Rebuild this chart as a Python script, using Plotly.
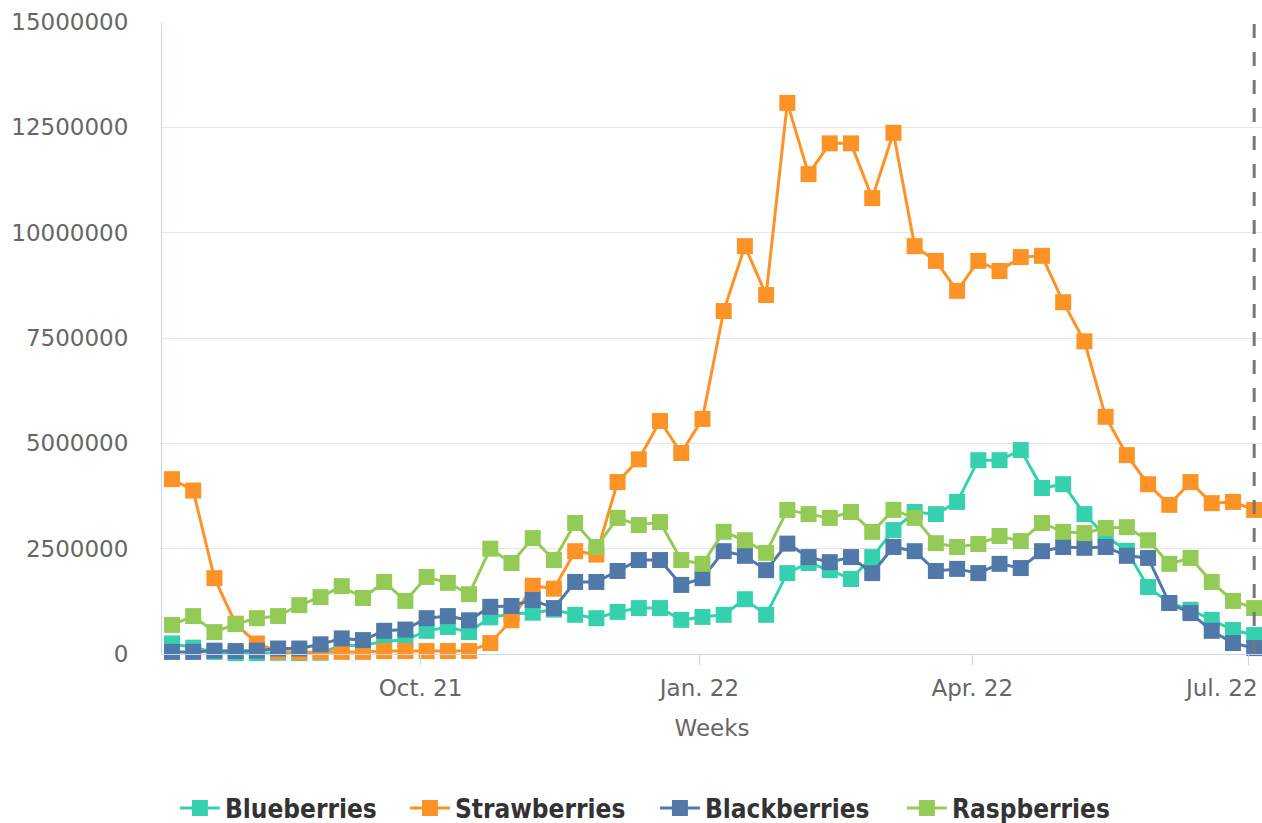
import plotly.graph_objects as go
import pandas as pd

# ---- data ----
weeks = list(pd.date_range("2021-07-11", periods=52, freq="7D").strftime("%Y-%m-%d"))

blueberries = [250000, 150000, 50000, 20000, 20000, 30000, 20000, 30000, 200000, 200000,
               300000, 330000, 550000, 640000, 520000, 870000, 950000, 980000, 1050000, 930000,
               850000, 1000000, 1090000, 1090000, 810000, 880000, 930000, 1300000, 930000, 1920000,
               2160000, 1990000, 1780000, 2300000, 2940000, 3370000, 3320000, 3610000, 4600000, 4600000,
               4840000, 3940000, 4030000, 3320000, 2800000, 2450000, 1590000, 1210000, 1050000, 810000,
               570000, 450000]

strawberries = [4150000, 3880000, 1800000, 720000, 250000, 60000, 40000, 50000, 50000, 50000,
                70000, 70000, 70000, 70000, 70000, 260000, 800000, 1620000, 1550000, 2440000,
                2360000, 4080000, 4620000, 5530000, 4770000, 5580000, 8140000, 9680000, 8520000, 13080000,
                11390000, 12120000, 12120000, 10820000, 12370000, 9680000, 9330000, 8620000, 9330000, 9090000,
                9420000, 9450000, 8350000, 7420000, 5630000, 4720000, 4030000, 3540000, 4080000, 3580000,
                3610000, 3420000]

blackberries = [50000, 50000, 80000, 70000, 80000, 130000, 130000, 230000, 370000, 330000,
                550000, 580000, 850000, 900000, 800000, 1120000, 1140000, 1280000, 1090000, 1710000,
                1710000, 1970000, 2230000, 2230000, 1640000, 1800000, 2440000, 2330000, 1990000, 2620000,
                2300000, 2180000, 2300000, 1920000, 2540000, 2440000, 1970000, 2020000, 1920000, 2140000,
                2040000, 2440000, 2540000, 2520000, 2540000, 2330000, 2280000, 1210000, 970000, 550000,
                260000, 140000]

raspberries = [690000, 900000, 520000, 710000, 850000, 900000, 1160000, 1350000, 1610000, 1330000,
               1710000, 1260000, 1830000, 1690000, 1420000, 2500000, 2160000, 2750000, 2230000, 3110000,
               2540000, 3230000, 3060000, 3130000, 2230000, 2140000, 2900000, 2700000, 2400000, 3420000,
               3320000, 3230000, 3370000, 2900000, 3420000, 3230000, 2630000, 2540000, 2610000, 2800000,
               2680000, 3110000, 2900000, 2870000, 2990000, 3010000, 2700000, 2140000, 2280000, 1710000,
               1260000, 1090000]

series_names = ["Blueberries", "Strawberries", "Blackberries", "Raspberries"]
series_values = [blueberries, strawberries, blackberries, raspberries]
series_colors = ["#35d1ae", "#fd9327", "#5079a9", "#94cb56"]
legend_widths = [175, 195, 192, 185]

x_tick_vals = ["2021-10-01", "2022-01-01", "2022-04-01", "2022-07-01"]
x_tick_text = ["Oct. 21", "Jan. 22", "Apr. 22", "Jul. 22"]
y_tick_vals = [0, 2500000, 5000000, 7500000, 10000000, 12500000, 15000000]
y_tick_text = ["0", "2500000", "5000000", "7500000", "10000000", "12500000", "15000000"]
marker_line_date = "2022-07-03"

fig = go.Figure()
for name, vals, col, lw in zip(series_names, series_values, series_colors, legend_widths):
    fig.add_trace(go.Scatter(
        x=weeks, y=vals, name=name, mode="lines+markers",
        line=dict(color=col, width=3),
        marker=dict(symbol="square", size=16, color=col, line=dict(width=0)),
        cliponaxis=False, legendwidth=lw,
    ))

fig.add_shape(type="line", xref="x", yref="paper", x0=marker_line_date, x1=marker_line_date,
              y0=0, y1=1, layer="above",
              line=dict(color="#777777", width=3, dash="14px,14px"))

tick_font = dict(family="DejaVu Sans", size=23, color="#666666")

# The last tick label is kept inside the chart (right-aligned near its tick), like the reference
fig.add_annotation(x=x_tick_vals[-1], xref="x", y=0, yref="paper",
                   text=x_tick_text[-1], showarrow=False,
                   xanchor="right", yanchor="middle", xshift=12, yshift=-34,
                   font=tick_font)

fig.update_layout(
    width=1262, height=823,
    margin=dict(l=162, r=0, t=22, b=169, autoexpand=False),
    plot_bgcolor="white", paper_bgcolor="white",
    showlegend=True,
    legend=dict(orientation="h", xref="container", yref="container",
                x=0.1386, xanchor="left", y=0.018, yanchor="middle", itemwidth=40,
                font=dict(family="DejaVu Sans Condensed", size=26, color="#333333", weight="bold")),
    xaxis=dict(type="date", range=["2021-07-07 17:00", "2022-07-05 14:00"],
               tickvals=x_tick_vals, ticktext=x_tick_text[:-1] + [""],
               automargin=False,
               ticks="outside", ticklen=10, tickwidth=1, tickcolor="#ccd6eb",
               showline=True, linecolor="#ccd6eb", linewidth=1, ticklabelstandoff=3,
               showgrid=False, zeroline=False, tickfont=tick_font,
               title=dict(text="Weeks", font=tick_font, standoff=20)),
    yaxis=dict(range=[0, 15000000], tickvals=y_tick_vals, ticktext=y_tick_text,
               automargin=False,
               showgrid=True, gridcolor="#e6e6e6", gridwidth=1,
               showline=True, linecolor="#ccd6eb", linewidth=1, zeroline=False,
               ticklabelstandoff=28, tickfont=tick_font),
)

fig.write_html("out.html", config={"displayModeBar": False},
               post_script="document.body.style.margin='0';document.body.style.overflow='hidden';")
